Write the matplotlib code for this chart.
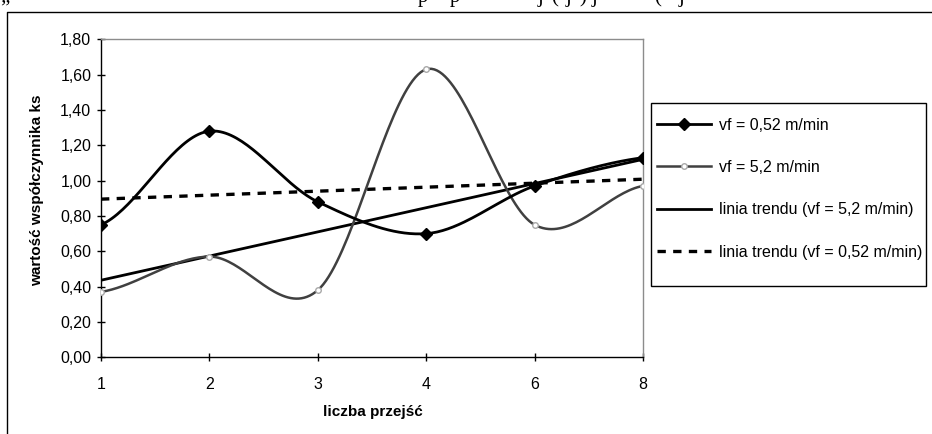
import numpy as np
import matplotlib
matplotlib.use("Agg")
import matplotlib.pyplot as plt
from matplotlib.lines import Line2D
from matplotlib.patches import Rectangle

plt.rcParams['font.family'] = ['Liberation Sans', 'DejaVu Sans']

# data
passes = ['1', '2', '3', '4', '6', '8']
ks_052 = [0.75, 1.28, 0.88, 0.70, 0.97, 1.13]   # vf = 0,52 m/min
ks_52 = [0.37, 0.57, 0.38, 1.63, 0.75, 0.97]    # vf = 5,2 m/min
yticks = [0.0, 0.2, 0.4, 0.6, 0.8, 1.0, 1.2, 1.4, 1.6, 1.8]

W, H = 932, 434


def smooth(y, n=40):
    # Catmull-Rom through points on an even index grid (like Excel "smoothed line")
    y = np.asarray(y, float)
    m = np.zeros_like(y)
    m[1:-1] = (y[2:] - y[:-2]) / 2
    m[0] = (y[1] - y[0]) * 0.5
    m[-1] = (y[-1] - y[-2]) * 0.5
    xs, ys = [], []
    for i in range(len(y) - 1):
        t = np.linspace(0, 1, n, endpoint=(i == len(y) - 2))
        h00 = 2*t**3 - 3*t**2 + 1
        h10 = t**3 - 2*t**2 + t
        h01 = -2*t**3 + 3*t**2
        h11 = t**3 - t**2
        xs.append(i + t)
        ys.append(h00*y[i] + h10*m[i] + h01*y[i+1] + h11*m[i+1])
    return np.concatenate(xs), np.concatenate(ys)


fig = plt.figure(figsize=(W/100, H/100), dpi=100)
fig.patch.set_facecolor('white')

# chart-area border (only left and top visible)
fig.add_artist(Line2D([7.3/W, 7.3/W, 1.0], [0.0, 1-12.3/H, 1-12.3/H],
                      transform=fig.transFigure, color='black', lw=1.0))

# clipped caption line from the page above the chart (only descenders show)
for xp, ch in [(418, 'p'), (450, 'p'), (538, 'j'), (551, '('), (566, 'j'),
               (579, ')'), (592, 'j'), (654, '('), (679, 'j'), (0, '„')]:
    fig.text(xp/W, 1 - 2/H, ch, family=['Liberation Serif', 'DejaVu Serif'],
             fontsize=15, va='baseline', ha='left', color='black')

x0, x1, yt, yb = 101, 643, 39.3, 357.3
ax = fig.add_axes([x0/W, 1-yb/H, (x1-x0)/W, (yb-yt)/H])

idx = np.arange(len(passes))

xs, ys = smooth(ks_052)
ax.plot(xs, ys, color='black', lw=2.0, zorder=5)
ax.plot(idx, ks_052, ls='none', marker='D', ms=6.5, color='black', zorder=6)

xs, ys = smooth(ks_52)
ax.plot(xs, ys, color='#404040', lw=1.8, zorder=4)
ax.plot(idx, ks_52, ls='none', marker='o', ms=4, mfc='white', mec='#a8a8a8',
        mew=1.0, zorder=6)

c52 = np.polyfit(idx, ks_52, 1)
c052 = np.polyfit(idx, ks_052, 1)
ax.plot(idx, np.polyval(c52, idx), color='black', lw=2.0, zorder=3)
ax.plot(idx, np.polyval(c052, idx), color='black', lw=2.4,
        dashes=(2.5, 2.2), zorder=3)

ax.set_xlim(0, len(passes) - 1)
ax.set_ylim(0, 1.8)
ax.set_xticks(idx)
ax.set_xticklabels(passes)
ax.set_yticks(yticks)
ax.set_yticklabels([f"{v:.2f}".replace('.', ',') for v in yticks])
ax.tick_params(axis='both', direction='inout', length=6, width=1.0,
               labelsize=11.5, colors='black')
ax.tick_params(axis='y', pad=4)
ax.tick_params(axis='x', pad=11)

for s in ['left', 'bottom']:
    ax.spines[s].set_color('black')
    ax.spines[s].set_linewidth(1.0)
for s in ['top', 'right']:
    ax.spines[s].set_color('#8c8c8c')
    ax.spines[s].set_linewidth(1.0)

fig.text(373/W, 1 - 412/H, 'liczba przejść', fontsize=11, fontweight='bold',
         ha='center', va='center')
fig.text(37/W, 1 - 190/H, 'wartość współczynnika ks', fontsize=11,
         fontweight='bold', rotation=90, ha='center', va='center')

# legend box
fig.add_artist(Rectangle((650.7/W, 1-286/H), (926-650.7)/W, (286-102.7)/H,
                         transform=fig.transFigure, fill=False,
                         edgecolor='black', lw=1.0))
h1 = Line2D([], [], color='black', lw=2.0, marker='D', ms=6.5)
h2 = Line2D([], [], color='#404040', lw=1.8, marker='o', ms=4, mfc='white',
            mec='#a8a8a8')
h3 = Line2D([], [], color='black', lw=2.0)
h4 = Line2D([], [], color='black', lw=2.4, dashes=(2.5, 2.2))
fig.legend([h1, h2, h3, h4],
           ['vf = 0,52 m/min', 'vf = 5,2 m/min',
            'linia trendu (vf = 5,2 m/min)', 'linia trendu (vf = 0,52 m/min)'],
           loc='upper left', bbox_to_anchor=(656.7/W, 1 - 117.5/H),
           frameon=False, fontsize=11.5, borderpad=0, borderaxespad=0,
           handlelength=3.4, handletextpad=0.5, labelspacing=1.72)

fig.savefig('out.png', dpi=100, facecolor='white')
